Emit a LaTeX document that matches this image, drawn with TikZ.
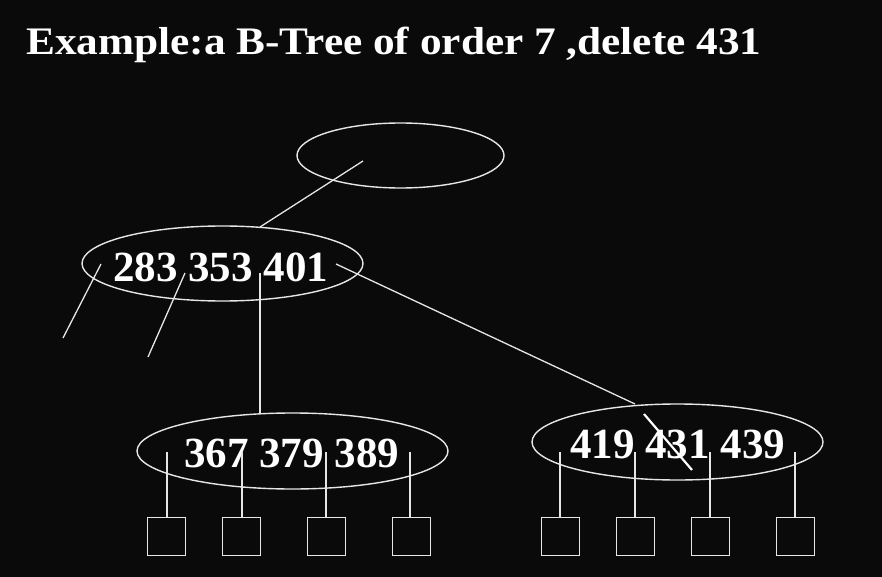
\documentclass[tikz,border=0pt]{standalone}
\usepackage{fontspec}
\setmainfont{Liberation Serif}
\usetikzlibrary{shapes.geometric}
\definecolor{bg}{HTML}{0A0A0A}
\definecolor{ln}{HTML}{E6E6E6}
\begin{document}
\begin{tikzpicture}[x=1pt,y=-1pt,
  keynode/.style={ellipse,draw=ln,line width=1.4pt,inner sep=0pt},
  keytext/.style={text=white,font=\fontsize{43}{43}\selectfont\bfseries,anchor=base,inner sep=0pt},
  leaf/.style={draw=ln,line width=1.4pt,minimum width=38pt,minimum height=38pt,inner sep=0pt,anchor=north west},
  link/.style={draw=ln,line width=1.3pt}]
\fill[bg] (0,0) rectangle (882,577);
\useasboundingbox (0,0) rectangle (882,577);
\node[anchor=base west,inner sep=0pt,text=white,font=\fontsize{39}{39}\selectfont\bfseries] (title) at (26,55) {\scalebox{1.11}[1]{Example:a B-Tree of order 7 ,delete 431}};
% ellipses
\node[keynode,minimum width=207pt,minimum height=65pt] (root) at (400.5,155.5) {};
\node[keynode,minimum width=281pt,minimum height=75pt] (mid) at (222.5,263.5) {};
\node[keynode,minimum width=311pt,minimum height=76pt] (left) at (292.5,451) {};
\node[keynode,minimum width=291pt,minimum height=76pt] (right) at (677.5,442) {};
% texts
\node[keytext] (midt) at (220.5,281) {283 353 401};
\node[keytext] (leftt) at (291.5,467) {367 379 389};
\node[keytext] (rightt) at (677.5,458) {419 431 439};
% connector endpoints
\coordinate (r0) at (363,161);
\coordinate (m0) at (260,227);
\coordinate (m1a) at (101,264); \coordinate (m1b) at (63,338);
\coordinate (m2a) at (185,273); \coordinate (m2b) at (148,357);
\coordinate (m3a) at (260,273); \coordinate (m3b) at (260,414);
\coordinate (m4a) at (336,264); \coordinate (m4b) at (635,404);
\draw[link] (r0) -- (m0);
\draw[link] (m1a) -- (m1b);
\draw[link] (m2a) -- (m2b);
\draw[link] (m3a) -- (m3b);
\draw[link] (m4a) -- (m4b);
% strike through 431
\coordinate (s0) at (644,414); \coordinate (s1) at (692,470);
\draw[draw=white,line width=2.2pt] (s0) -- (s1);
% leaves left
\node[leaf] (l1) at (147,517) {};
\node[leaf] (l2) at (222,517) {};
\node[leaf] (l3) at (307,517) {};
\node[leaf] (l4) at (392,517) {};
\coordinate (lp1) at (167,452); \coordinate (lp2) at (242,452);
\coordinate (lp3) at (326,452); \coordinate (lp4) at (410,452);
\draw[link] (lp1) -- (lp1 |- l1.north);
\draw[link] (lp2) -- (lp2 |- l2.north);
\draw[link] (lp3) -- (lp3 |- l3.north);
\draw[link] (lp4) -- (lp4 |- l4.north);
% leaves right
\node[leaf] (r1) at (541,517) {};
\node[leaf] (r2) at (616,517) {};
\node[leaf] (r3) at (691,517) {};
\node[leaf] (r4) at (776,517) {};
\coordinate (rp1) at (560,452); \coordinate (rp2) at (635,452);
\coordinate (rp3) at (710,452); \coordinate (rp4) at (795,452);
\draw[link] (rp1) -- (rp1 |- r1.north);
\draw[link] (rp2) -- (rp2 |- r2.north);
\draw[link] (rp3) -- (rp3 |- r3.north);
\draw[link] (rp4) -- (rp4 |- r4.north);
\end{tikzpicture}
\end{document}
